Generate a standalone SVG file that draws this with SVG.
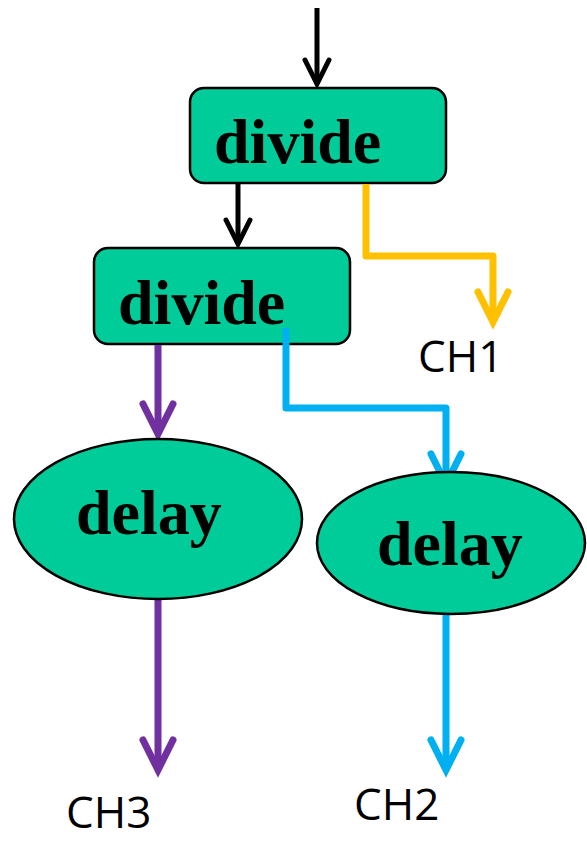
<svg xmlns="http://www.w3.org/2000/svg" width="587" height="842" viewBox="0 0 587 842">
<style>
.box{fill:#00CC99;stroke:#000;stroke-width:2.5}
.lbl{font-family:"Liberation Serif","Times New Roman",serif;font-weight:bold;font-size:64px;fill:#000}
.ch{font-family:"Open Sans","Noto Sans",sans-serif;font-size:44px;fill:#000}
.c{fill:none;stroke-width:7;stroke-linejoin:round}
.k{stroke-width:5}
</style>
<defs>
<marker id="ak" markerUnits="userSpaceOnUse" orient="auto" refX="0" refY="0" markerWidth="40" markerHeight="40" viewBox="-30 -20 40 40" overflow="visible"><path d="M-24,-12 L0,0 L-24,12" fill="none" stroke="#000" stroke-width="5" stroke-linecap="round" stroke-linejoin="miter"/></marker>
<marker id="ay" markerUnits="userSpaceOnUse" orient="auto" refX="0" refY="0" markerWidth="40" markerHeight="40" viewBox="-30 -20 40 40" overflow="visible"><path d="M-30,-15 L0,0 L-30,15" fill="none" stroke="#FFC000" stroke-width="7" stroke-linecap="round"/></marker>
<marker id="ap" markerUnits="userSpaceOnUse" orient="auto" refX="0" refY="0" markerWidth="40" markerHeight="40" viewBox="-30 -20 40 40" overflow="visible"><path d="M-30,-15 L0,0 L-30,15" fill="none" stroke="#7030A0" stroke-width="7" stroke-linecap="round"/></marker>
<marker id="ab" markerUnits="userSpaceOnUse" orient="auto" refX="0" refY="0" markerWidth="40" markerHeight="40" viewBox="-30 -20 40 40" overflow="visible"><path d="M-30,-15 L0,0 L-30,15" fill="none" stroke="#00B0F0" stroke-width="7" stroke-linecap="round"/></marker>
</defs>
<g id="divide1"><rect class="box" x="190" y="88" width="256" height="95" rx="14"/><text class="lbl" x="214" y="163">divide</text></g>
<g id="divide2"><rect class="box" x="94" y="248" width="256" height="96" rx="14"/><text class="lbl" x="118" y="324">divide</text></g>
<g id="connectors">
<path class="c k" stroke="#000" d="M317,8 V84" marker-end="url(#ak)"/>
<path class="c k" stroke="#000" d="M238,184 V244" marker-end="url(#ak)"/>
<path class="c" stroke="#FFC000" d="M366,184 V256 H493 V322" marker-end="url(#ay)"/>
<path class="c" stroke="#7030A0" d="M158,345 V434" marker-end="url(#ap)"/>
<path class="c" stroke="#00B0F0" d="M286,328 V408 H446 V484" marker-end="url(#ab)"/>
<path class="c" stroke="#7030A0" d="M158,598 V770" marker-end="url(#ap)"/>
<path class="c" stroke="#00B0F0" d="M446,614 V770" marker-end="url(#ab)"/>
</g>
<g id="delay1"><ellipse class="box" cx="158" cy="519" rx="144" ry="80" stroke-width="2"/><text class="lbl" x="76" y="534">delay</text></g>
<g id="delay2"><ellipse class="box" cx="451" cy="543" rx="134" ry="71" stroke-width="2"/><text class="lbl" x="377" y="565">delay</text></g>
<g id="ch1"><text class="ch" x="418" y="372">CH1</text></g>
<g id="ch2"><text class="ch" x="354" y="820">CH2</text></g>
<g id="ch3"><text class="ch" x="66" y="828">CH3</text></g>
</svg>
